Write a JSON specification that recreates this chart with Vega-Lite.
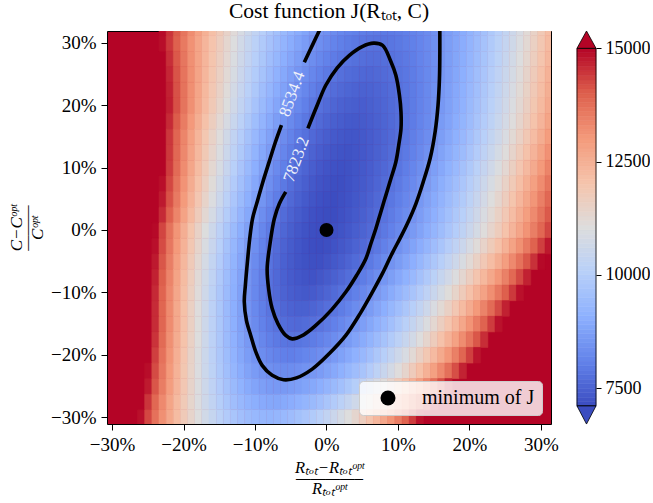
{
"$schema":"https://vega.github.io/schema/vega-lite/v6.json",
"width":444,"height":393,
"padding":{"left":7,"top":0,"right":0,"bottom":0},
"config":{"font":"Liberation Serif","view":{"stroke":"black","strokeWidth":1,"fill":"#b40426"},
"axis":{"grid":false,"domain":false,"tickColor":"black","tickWidth":1,"labelColor":"black","labelFontSize":19,"labelFont":"Liberation Serif","titleColor":"black","titleFont":"Liberation Serif","titleFontWeight":"normal","labelFlush":false,"labelOverlap":false,"labelBound":false}},
"title":{"text":"Cost function J(Rₜₒₜ, C)","fontSize":21.5,"font":"Liberation Serif","fontWeight":"normal","color":"black","offset":7},
"datasets":{
"grid":[
{"x":-23,"y":32.5,"j":14927},{"x":-22,"y":32.5,"j":14486},{"x":-21,"y":32.5,"j":14059},{"x":-20,"y":32.5,"j":13647},{"x":-19,"y":32.5,"j":13249},{"x":-18,"y":32.5,"j":12866},{"x":-17,"y":32.5,"j":12497},{"x":-16,"y":32.5,"j":12142},{"x":-15,"y":32.5,"j":11802},{"x":-14,"y":32.5,"j":11476},{"x":-13,"y":32.5,"j":11165},{"x":-12,"y":32.5,"j":10868},{"x":-11,"y":32.5,"j":10585},{"x":-10,"y":32.5,"j":10317},{"x":-9,"y":32.5,"j":10063},{"x":-8,"y":32.5,"j":9824},{"x":-7,"y":32.5,"j":9599},{"x":-6,"y":32.5,"j":9388},{"x":-5,"y":32.5,"j":9192},{"x":-4,"y":32.5,"j":9010},{"x":-3,"y":32.5,"j":8843},{"x":-2,"y":32.5,"j":8690},{"x":-1,"y":32.5,"j":8551},{"x":0,"y":32.5,"j":8427},{"x":1,"y":32.5,"j":8317},{"x":2,"y":32.5,"j":8222},{"x":3,"y":32.5,"j":8141},{"x":4,"y":32.5,"j":8074},{"x":5,"y":32.5,"j":8022},{"x":6,"y":32.5,"j":7984},{"x":7,"y":32.5,"j":7961},{"x":8,"y":32.5,"j":7952},{"x":9,"y":32.5,"j":7975},{"x":10,"y":32.5,"j":8015},{"x":11,"y":32.5,"j":8069},{"x":12,"y":32.5,"j":8138},{"x":13,"y":32.5,"j":8221},{"x":14,"y":32.5,"j":8318},{"x":15,"y":32.5,"j":8430},{"x":16,"y":32.5,"j":8556},{"x":17,"y":32.5,"j":8697},{"x":18,"y":32.5,"j":8852},{"x":19,"y":32.5,"j":9021},{"x":20,"y":32.5,"j":9205},{"x":21,"y":32.5,"j":9403},{"x":22,"y":32.5,"j":9616},{"x":23,"y":32.5,"j":9843},{"x":24,"y":32.5,"j":10084},{"x":25,"y":32.5,"j":10340},{"x":26,"y":32.5,"j":10610},{"x":27,"y":32.5,"j":10895},{"x":28,"y":32.5,"j":11194},{"x":29,"y":32.5,"j":11507},{"x":30,"y":32.5,"j":11835},{"x":31,"y":32.5,"j":12177},
{"x":-23,"y":30,"j":14898},{"x":-22,"y":30,"j":14442},{"x":-21,"y":30,"j":14001},{"x":-20,"y":30,"j":13576},{"x":-19,"y":30,"j":13165},{"x":-18,"y":30,"j":12770},{"x":-17,"y":30,"j":12390},{"x":-16,"y":30,"j":12025},{"x":-15,"y":30,"j":11675},{"x":-14,"y":30,"j":11341},{"x":-13,"y":30,"j":11022},{"x":-12,"y":30,"j":10718},{"x":-11,"y":30,"j":10429},{"x":-10,"y":30,"j":10156},{"x":-9,"y":30,"j":9897},{"x":-8,"y":30,"j":9654},{"x":-7,"y":30,"j":9426},{"x":-6,"y":30,"j":9213},{"x":-5,"y":30,"j":9015},{"x":-4,"y":30,"j":8833},{"x":-3,"y":30,"j":8666},{"x":-2,"y":30,"j":8514},{"x":-1,"y":30,"j":8377},{"x":0,"y":30,"j":8256},{"x":1,"y":30,"j":8149},{"x":2,"y":30,"j":8058},{"x":3,"y":30,"j":7982},{"x":4,"y":30,"j":7921},{"x":5,"y":30,"j":7875},{"x":6,"y":30,"j":7845},{"x":7,"y":30,"j":7830},{"x":8,"y":30,"j":7842},{"x":9,"y":30,"j":7880},{"x":10,"y":30,"j":7932},{"x":11,"y":30,"j":7998},{"x":12,"y":30,"j":8078},{"x":13,"y":30,"j":8172},{"x":14,"y":30,"j":8280},{"x":15,"y":30,"j":8402},{"x":16,"y":30,"j":8538},{"x":17,"y":30,"j":8688},{"x":18,"y":30,"j":8852},{"x":19,"y":30,"j":9030},{"x":20,"y":30,"j":9222},{"x":21,"y":30,"j":9428},{"x":22,"y":30,"j":9648},{"x":23,"y":30,"j":9882},{"x":24,"y":30,"j":10130},{"x":25,"y":30,"j":10392},{"x":26,"y":30,"j":10668},{"x":27,"y":30,"j":10958},{"x":28,"y":30,"j":11262},{"x":29,"y":30,"j":11580},{"x":30,"y":30,"j":11912},{"x":31,"y":30,"j":12258},
{"x":-22,"y":27.5,"j":14550},{"x":-21,"y":27.5,"j":14085},{"x":-20,"y":27.5,"j":13636},{"x":-19,"y":27.5,"j":13203},{"x":-18,"y":27.5,"j":12787},{"x":-17,"y":27.5,"j":12387},{"x":-16,"y":27.5,"j":12004},{"x":-15,"y":27.5,"j":11637},{"x":-14,"y":27.5,"j":11286},{"x":-13,"y":27.5,"j":10952},{"x":-12,"y":27.5,"j":10634},{"x":-11,"y":27.5,"j":10333},{"x":-10,"y":27.5,"j":10048},{"x":-9,"y":27.5,"j":9779},{"x":-8,"y":27.5,"j":9527},{"x":-7,"y":27.5,"j":9291},{"x":-6,"y":27.5,"j":9072},{"x":-5,"y":27.5,"j":8869},{"x":-4,"y":27.5,"j":8683},{"x":-3,"y":27.5,"j":8513},{"x":-2,"y":27.5,"j":8359},{"x":-1,"y":27.5,"j":8222},{"x":0,"y":27.5,"j":8101},{"x":1,"y":27.5,"j":7996},{"x":2,"y":27.5,"j":7908},{"x":3,"y":27.5,"j":7836},{"x":4,"y":27.5,"j":7781},{"x":5,"y":27.5,"j":7742},{"x":6,"y":27.5,"j":7719},{"x":7,"y":27.5,"j":7717},{"x":8,"y":27.5,"j":7752},{"x":9,"y":27.5,"j":7801},{"x":10,"y":27.5,"j":7864},{"x":11,"y":27.5,"j":7941},{"x":12,"y":27.5,"j":8031},{"x":13,"y":27.5,"j":8135},{"x":14,"y":27.5,"j":8253},{"x":15,"y":27.5,"j":8385},{"x":16,"y":27.5,"j":8530},{"x":17,"y":27.5,"j":8689},{"x":18,"y":27.5,"j":8861},{"x":19,"y":27.5,"j":9047},{"x":20,"y":27.5,"j":9247},{"x":21,"y":27.5,"j":9461},{"x":22,"y":27.5,"j":9688},{"x":23,"y":27.5,"j":9929},{"x":24,"y":27.5,"j":10184},{"x":25,"y":27.5,"j":10453},{"x":26,"y":27.5,"j":10735},{"x":27,"y":27.5,"j":11031},{"x":28,"y":27.5,"j":11340},{"x":29,"y":27.5,"j":11664},{"x":30,"y":27.5,"j":12001},{"x":31,"y":27.5,"j":12352},
{"x":-22,"y":25,"j":14632},{"x":-21,"y":25,"j":14144},{"x":-20,"y":25,"j":13673},{"x":-19,"y":25,"j":13220},{"x":-18,"y":25,"j":12784},{"x":-17,"y":25,"j":12366},{"x":-16,"y":25,"j":11966},{"x":-15,"y":25,"j":11583},{"x":-14,"y":25,"j":11218},{"x":-13,"y":25,"j":10870},{"x":-12,"y":25,"j":10540},{"x":-11,"y":25,"j":10228},{"x":-10,"y":25,"j":9933},{"x":-9,"y":25,"j":9656},{"x":-8,"y":25,"j":9396},{"x":-7,"y":25,"j":9154},{"x":-6,"y":25,"j":8930},{"x":-5,"y":25,"j":8723},{"x":-4,"y":25,"j":8534},{"x":-3,"y":25,"j":8362},{"x":-2,"y":25,"j":8208},{"x":-1,"y":25,"j":8072},{"x":0,"y":25,"j":7953},{"x":1,"y":25,"j":7852},{"x":2,"y":25,"j":7768},{"x":3,"y":25,"j":7702},{"x":4,"y":25,"j":7654},{"x":5,"y":25,"j":7623},{"x":6,"y":25,"j":7610},{"x":7,"y":25,"j":7635},{"x":8,"y":25,"j":7682},{"x":9,"y":25,"j":7742},{"x":10,"y":25,"j":7816},{"x":11,"y":25,"j":7903},{"x":12,"y":25,"j":8003},{"x":13,"y":25,"j":8117},{"x":14,"y":25,"j":8244},{"x":15,"y":25,"j":8384},{"x":16,"y":25,"j":8538},{"x":17,"y":25,"j":8706},{"x":18,"y":25,"j":8887},{"x":19,"y":25,"j":9081},{"x":20,"y":25,"j":9288},{"x":21,"y":25,"j":9509},{"x":22,"y":25,"j":9744},{"x":23,"y":25,"j":9991},{"x":24,"y":25,"j":10252},{"x":25,"y":25,"j":10527},{"x":26,"y":25,"j":10815},{"x":27,"y":25,"j":11116},{"x":28,"y":25,"j":11431},{"x":29,"y":25,"j":11759},{"x":30,"y":25,"j":12101},{"x":31,"y":25,"j":12456},
{"x":-22,"y":22.5,"j":14688},{"x":-21,"y":22.5,"j":14178},{"x":-20,"y":22.5,"j":13686},{"x":-19,"y":22.5,"j":13214},{"x":-18,"y":22.5,"j":12761},{"x":-17,"y":22.5,"j":12326},{"x":-16,"y":22.5,"j":11910},{"x":-15,"y":22.5,"j":11513},{"x":-14,"y":22.5,"j":11134},{"x":-13,"y":22.5,"j":10775},{"x":-12,"y":22.5,"j":10434},{"x":-11,"y":22.5,"j":10112},{"x":-10,"y":22.5,"j":9809},{"x":-9,"y":22.5,"j":9525},{"x":-8,"y":22.5,"j":9259},{"x":-7,"y":22.5,"j":9012},{"x":-6,"y":22.5,"j":8784},{"x":-5,"y":22.5,"j":8575},{"x":-4,"y":22.5,"j":8385},{"x":-3,"y":22.5,"j":8214},{"x":-2,"y":22.5,"j":8061},{"x":-1,"y":22.5,"j":7927},{"x":0,"y":22.5,"j":7811},{"x":1,"y":22.5,"j":7715},{"x":2,"y":22.5,"j":7638},{"x":3,"y":22.5,"j":7579},{"x":4,"y":22.5,"j":7539},{"x":5,"y":22.5,"j":7518},{"x":6,"y":22.5,"j":7527},{"x":7,"y":22.5,"j":7570},{"x":8,"y":22.5,"j":7627},{"x":9,"y":22.5,"j":7696},{"x":10,"y":22.5,"j":7779},{"x":11,"y":22.5,"j":7875},{"x":12,"y":22.5,"j":7984},{"x":13,"y":22.5,"j":8106},{"x":14,"y":22.5,"j":8241},{"x":15,"y":22.5,"j":8389},{"x":16,"y":22.5,"j":8551},{"x":17,"y":22.5,"j":8725},{"x":18,"y":22.5,"j":8913},{"x":19,"y":22.5,"j":9114},{"x":20,"y":22.5,"j":9328},{"x":21,"y":22.5,"j":9554},{"x":22,"y":22.5,"j":9794},{"x":23,"y":22.5,"j":10047},{"x":24,"y":22.5,"j":10314},{"x":25,"y":22.5,"j":10593},{"x":26,"y":22.5,"j":10885},{"x":27,"y":22.5,"j":11190},{"x":28,"y":22.5,"j":11509},{"x":29,"y":22.5,"j":11841},{"x":30,"y":22.5,"j":12186},{"x":31,"y":22.5,"j":12543},
{"x":-22,"y":20,"j":14720},{"x":-21,"y":20,"j":14190},{"x":-20,"y":20,"j":13680},{"x":-19,"y":20,"j":13190},{"x":-18,"y":20,"j":12720},{"x":-17,"y":20,"j":12270},{"x":-16,"y":20,"j":11840},{"x":-15,"y":20,"j":11430},{"x":-14,"y":20,"j":11040},{"x":-13,"y":20,"j":10670},{"x":-12,"y":20,"j":10320},{"x":-11,"y":20,"j":9990},{"x":-10,"y":20,"j":9680},{"x":-9,"y":20,"j":9390},{"x":-8,"y":20,"j":9120},{"x":-7,"y":20,"j":8870},{"x":-6,"y":20,"j":8640},{"x":-5,"y":20,"j":8430},{"x":-4,"y":20,"j":8240},{"x":-3,"y":20,"j":8070},{"x":-2,"y":20,"j":7920},{"x":-1,"y":20,"j":7790},{"x":0,"y":20,"j":7680},{"x":1,"y":20,"j":7590},{"x":2,"y":20,"j":7520},{"x":3,"y":20,"j":7470},{"x":4,"y":20,"j":7440},{"x":5,"y":20,"j":7430},{"x":6,"y":20,"j":7470},{"x":7,"y":20,"j":7524},{"x":8,"y":20,"j":7590},{"x":9,"y":20,"j":7669},{"x":10,"y":20,"j":7760},{"x":11,"y":20,"j":7865},{"x":12,"y":20,"j":7982},{"x":13,"y":20,"j":8112},{"x":14,"y":20,"j":8254},{"x":15,"y":20,"j":8410},{"x":16,"y":20,"j":8578},{"x":17,"y":20,"j":8760},{"x":18,"y":20,"j":8954},{"x":19,"y":20,"j":9161},{"x":20,"y":20,"j":9380},{"x":21,"y":20,"j":9613},{"x":22,"y":20,"j":9858},{"x":23,"y":20,"j":10116},{"x":24,"y":20,"j":10386},{"x":25,"y":20,"j":10670},{"x":26,"y":20,"j":10966},{"x":27,"y":20,"j":11276},{"x":28,"y":20,"j":11598},{"x":29,"y":20,"j":11933},{"x":30,"y":20,"j":12280},{"x":31,"y":20,"j":12641},
{"x":-22,"y":17.5,"j":14590},{"x":-21,"y":17.5,"j":14052},{"x":-20,"y":17.5,"j":13534},{"x":-19,"y":17.5,"j":13038},{"x":-18,"y":17.5,"j":12562},{"x":-17,"y":17.5,"j":12107},{"x":-16,"y":17.5,"j":11672},{"x":-15,"y":17.5,"j":11259},{"x":-14,"y":17.5,"j":10866},{"x":-13,"y":17.5,"j":10495},{"x":-12,"y":17.5,"j":10144},{"x":-11,"y":17.5,"j":9814},{"x":-10,"y":17.5,"j":9504},{"x":-9,"y":17.5,"j":9216},{"x":-8,"y":17.5,"j":8948},{"x":-7,"y":17.5,"j":8701},{"x":-6,"y":17.5,"j":8474},{"x":-5,"y":17.5,"j":8269},{"x":-4,"y":17.5,"j":8084},{"x":-3,"y":17.5,"j":7921},{"x":-2,"y":17.5,"j":7778},{"x":-1,"y":17.5,"j":7656},{"x":0,"y":17.5,"j":7554},{"x":1,"y":17.5,"j":7474},{"x":2,"y":17.5,"j":7414},{"x":3,"y":17.5,"j":7375},{"x":4,"y":17.5,"j":7356},{"x":5,"y":17.5,"j":7380},{"x":6,"y":17.5,"j":7430},{"x":7,"y":17.5,"j":7493},{"x":8,"y":17.5,"j":7568},{"x":9,"y":17.5,"j":7656},{"x":10,"y":17.5,"j":7757},{"x":11,"y":17.5,"j":7870},{"x":12,"y":17.5,"j":7996},{"x":13,"y":17.5,"j":8134},{"x":14,"y":17.5,"j":8285},{"x":15,"y":17.5,"j":8449},{"x":16,"y":17.5,"j":8625},{"x":17,"y":17.5,"j":8814},{"x":18,"y":17.5,"j":9015},{"x":19,"y":17.5,"j":9229},{"x":20,"y":17.5,"j":9456},{"x":21,"y":17.5,"j":9695},{"x":22,"y":17.5,"j":9947},{"x":23,"y":17.5,"j":10211},{"x":24,"y":17.5,"j":10488},{"x":25,"y":17.5,"j":10778},{"x":26,"y":17.5,"j":11080},{"x":27,"y":17.5,"j":11395},{"x":28,"y":17.5,"j":11722},{"x":29,"y":17.5,"j":12062},{"x":30,"y":17.5,"j":12414},{"x":31,"y":17.5,"j":12779},
{"x":-22,"y":15,"j":14452},{"x":-21,"y":15,"j":13907},{"x":-20,"y":15,"j":13383},{"x":-19,"y":15,"j":12881},{"x":-18,"y":15,"j":12400},{"x":-17,"y":15,"j":11941},{"x":-16,"y":15,"j":11504},{"x":-15,"y":15,"j":11088},{"x":-14,"y":15,"j":10694},{"x":-13,"y":15,"j":10321},{"x":-12,"y":15,"j":9970},{"x":-11,"y":15,"j":9641},{"x":-10,"y":15,"j":9333},{"x":-9,"y":15,"j":9047},{"x":-8,"y":15,"j":8782},{"x":-7,"y":15,"j":8539},{"x":-6,"y":15,"j":8318},{"x":-5,"y":15,"j":8118},{"x":-4,"y":15,"j":7940},{"x":-3,"y":15,"j":7783},{"x":-2,"y":15,"j":7648},{"x":-1,"y":15,"j":7535},{"x":0,"y":15,"j":7443},{"x":1,"y":15,"j":7373},{"x":2,"y":15,"j":7324},{"x":3,"y":15,"j":7297},{"x":4,"y":15,"j":7301},{"x":5,"y":15,"j":7349},{"x":6,"y":15,"j":7410},{"x":7,"y":15,"j":7483},{"x":8,"y":15,"j":7569},{"x":9,"y":15,"j":7667},{"x":10,"y":15,"j":7777},{"x":11,"y":15,"j":7900},{"x":12,"y":15,"j":8035},{"x":13,"y":15,"j":8182},{"x":14,"y":15,"j":8342},{"x":15,"y":15,"j":8514},{"x":16,"y":15,"j":8699},{"x":17,"y":15,"j":8896},{"x":18,"y":15,"j":9106},{"x":19,"y":15,"j":9328},{"x":20,"y":15,"j":9562},{"x":21,"y":15,"j":9809},{"x":22,"y":15,"j":10068},{"x":23,"y":15,"j":10339},{"x":24,"y":15,"j":10623},{"x":25,"y":15,"j":10919},{"x":26,"y":15,"j":11228},{"x":27,"y":15,"j":11549},{"x":28,"y":15,"j":11883},{"x":29,"y":15,"j":12229},{"x":30,"y":15,"j":12587},{"x":31,"y":15,"j":12958},
{"x":-22,"y":12.5,"j":14432},{"x":-21,"y":12.5,"j":13871},{"x":-20,"y":12.5,"j":13332},{"x":-19,"y":12.5,"j":12816},{"x":-18,"y":12.5,"j":12323},{"x":-17,"y":12.5,"j":11853},{"x":-16,"y":12.5,"j":11406},{"x":-15,"y":12.5,"j":10981},{"x":-14,"y":12.5,"j":10579},{"x":-13,"y":12.5,"j":10200},{"x":-12,"y":12.5,"j":9844},{"x":-11,"y":12.5,"j":9511},{"x":-10,"y":12.5,"j":9200},{"x":-9,"y":12.5,"j":8912},{"x":-8,"y":12.5,"j":8647},{"x":-7,"y":12.5,"j":8405},{"x":-6,"y":12.5,"j":8185},{"x":-5,"y":12.5,"j":7989},{"x":-4,"y":12.5,"j":7815},{"x":-3,"y":12.5,"j":7664},{"x":-2,"y":12.5,"j":7535},{"x":-1,"y":12.5,"j":7430},{"x":0,"y":12.5,"j":7347},{"x":1,"y":12.5,"j":7287},{"x":2,"y":12.5,"j":7250},{"x":3,"y":12.5,"j":7236},{"x":4,"y":12.5,"j":7278},{"x":5,"y":12.5,"j":7338},{"x":6,"y":12.5,"j":7410},{"x":7,"y":12.5,"j":7494},{"x":8,"y":12.5,"j":7591},{"x":9,"y":12.5,"j":7699},{"x":10,"y":12.5,"j":7820},{"x":11,"y":12.5,"j":7953},{"x":12,"y":12.5,"j":8098},{"x":13,"y":12.5,"j":8255},{"x":14,"y":12.5,"j":8425},{"x":15,"y":12.5,"j":8607},{"x":16,"y":12.5,"j":8801},{"x":17,"y":12.5,"j":9007},{"x":18,"y":12.5,"j":9225},{"x":19,"y":12.5,"j":9456},{"x":20,"y":12.5,"j":9699},{"x":21,"y":12.5,"j":9954},{"x":22,"y":12.5,"j":10221},{"x":23,"y":12.5,"j":10500},{"x":24,"y":12.5,"j":10792},{"x":25,"y":12.5,"j":11096},{"x":26,"y":12.5,"j":11412},{"x":27,"y":12.5,"j":11740},{"x":28,"y":12.5,"j":12080},{"x":29,"y":12.5,"j":12432},{"x":30,"y":12.5,"j":12797},{"x":31,"y":12.5,"j":13174},
{"x":-22,"y":10,"j":14395},{"x":-21,"y":10,"j":13819},{"x":-20,"y":10,"j":13267},{"x":-19,"y":10,"j":12739},{"x":-18,"y":10,"j":12235},{"x":-17,"y":10,"j":11755},{"x":-16,"y":10,"j":11299},{"x":-15,"y":10,"j":10867},{"x":-14,"y":10,"j":10459},{"x":-13,"y":10,"j":10075},{"x":-12,"y":10,"j":9715},{"x":-11,"y":10,"j":9379},{"x":-10,"y":10,"j":9067},{"x":-9,"y":10,"j":8779},{"x":-8,"y":10,"j":8515},{"x":-7,"y":10,"j":8275},{"x":-6,"y":10,"j":8059},{"x":-5,"y":10,"j":7867},{"x":-4,"y":10,"j":7699},{"x":-3,"y":10,"j":7555},{"x":-2,"y":10,"j":7435},{"x":-1,"y":10,"j":7339},{"x":0,"y":10,"j":7267},{"x":1,"y":10,"j":7219},{"x":2,"y":10,"j":7195},{"x":3,"y":10,"j":7217},{"x":4,"y":10,"j":7276},{"x":5,"y":10,"j":7347},{"x":6,"y":10,"j":7430},{"x":7,"y":10,"j":7525},{"x":8,"y":10,"j":7632},{"x":9,"y":10,"j":7751},{"x":10,"y":10,"j":7882},{"x":11,"y":10,"j":8025},{"x":12,"y":10,"j":8180},{"x":13,"y":10,"j":8347},{"x":14,"y":10,"j":8526},{"x":15,"y":10,"j":8717},{"x":16,"y":10,"j":8920},{"x":17,"y":10,"j":9135},{"x":18,"y":10,"j":9362},{"x":19,"y":10,"j":9601},{"x":20,"y":10,"j":9852},{"x":21,"y":10,"j":10115},{"x":22,"y":10,"j":10390},{"x":23,"y":10,"j":10677},{"x":24,"y":10,"j":10976},{"x":25,"y":10,"j":11287},{"x":26,"y":10,"j":11610},{"x":27,"y":10,"j":11945},{"x":28,"y":10,"j":12292},{"x":29,"y":10,"j":12651},{"x":30,"y":10,"j":13022},{"x":31,"y":10,"j":13405},
{"x":-23,"y":7.5,"j":14892},{"x":-22,"y":7.5,"j":14282},{"x":-21,"y":7.5,"j":13698},{"x":-20,"y":7.5,"j":13139},{"x":-19,"y":7.5,"j":12605},{"x":-18,"y":7.5,"j":12095},{"x":-17,"y":7.5,"j":11611},{"x":-16,"y":7.5,"j":11151},{"x":-15,"y":7.5,"j":10717},{"x":-14,"y":7.5,"j":10307},{"x":-13,"y":7.5,"j":9923},{"x":-12,"y":7.5,"j":9564},{"x":-11,"y":7.5,"j":9230},{"x":-10,"y":7.5,"j":8920},{"x":-9,"y":7.5,"j":8636},{"x":-8,"y":7.5,"j":8376},{"x":-7,"y":7.5,"j":8142},{"x":-6,"y":7.5,"j":7932},{"x":-5,"y":7.5,"j":7748},{"x":-4,"y":7.5,"j":7588},{"x":-3,"y":7.5,"j":7454},{"x":-2,"y":7.5,"j":7345},{"x":-1,"y":7.5,"j":7261},{"x":0,"y":7.5,"j":7201},{"x":1,"y":7.5,"j":7167},{"x":2,"y":7.5,"j":7163},{"x":3,"y":7.5,"j":7222},{"x":4,"y":7.5,"j":7292},{"x":5,"y":7.5,"j":7374},{"x":6,"y":7.5,"j":7468},{"x":7,"y":7.5,"j":7574},{"x":8,"y":7.5,"j":7691},{"x":9,"y":7.5,"j":7820},{"x":10,"y":7.5,"j":7961},{"x":11,"y":7.5,"j":8114},{"x":12,"y":7.5,"j":8278},{"x":13,"y":7.5,"j":8455},{"x":14,"y":7.5,"j":8643},{"x":15,"y":7.5,"j":8843},{"x":16,"y":7.5,"j":9055},{"x":17,"y":7.5,"j":9279},{"x":18,"y":7.5,"j":9514},{"x":19,"y":7.5,"j":9761},{"x":20,"y":7.5,"j":10020},{"x":21,"y":7.5,"j":10291},{"x":22,"y":7.5,"j":10573},{"x":23,"y":7.5,"j":10868},{"x":24,"y":7.5,"j":11174},{"x":25,"y":7.5,"j":11492},{"x":26,"y":7.5,"j":11821},{"x":27,"y":7.5,"j":12163},{"x":28,"y":7.5,"j":12516},{"x":29,"y":7.5,"j":12881},{"x":30,"y":7.5,"j":13258},{"x":31,"y":7.5,"j":13647},
{"x":-23,"y":5,"j":14777},{"x":-22,"y":5,"j":14159},{"x":-21,"y":5,"j":13568},{"x":-20,"y":5,"j":13002},{"x":-19,"y":5,"j":12463},{"x":-18,"y":5,"j":11949},{"x":-17,"y":5,"j":11462},{"x":-16,"y":5,"j":11000},{"x":-15,"y":5,"j":10565},{"x":-14,"y":5,"j":10155},{"x":-13,"y":5,"j":9772},{"x":-12,"y":5,"j":9414},{"x":-11,"y":5,"j":9083},{"x":-10,"y":5,"j":8777},{"x":-9,"y":5,"j":8498},{"x":-8,"y":5,"j":8244},{"x":-7,"y":5,"j":8017},{"x":-6,"y":5,"j":7815},{"x":-5,"y":5,"j":7640},{"x":-4,"y":5,"j":7490},{"x":-3,"y":5,"j":7367},{"x":-2,"y":5,"j":7269},{"x":-1,"y":5,"j":7198},{"x":0,"y":5,"j":7152},{"x":1,"y":5,"j":7133},{"x":2,"y":5,"j":7176},{"x":3,"y":5,"j":7244},{"x":4,"y":5,"j":7324},{"x":5,"y":5,"j":7416},{"x":6,"y":5,"j":7519},{"x":7,"y":5,"j":7634},{"x":8,"y":5,"j":7761},{"x":9,"y":5,"j":7899},{"x":10,"y":5,"j":8049},{"x":11,"y":5,"j":8210},{"x":12,"y":5,"j":8383},{"x":13,"y":5,"j":8567},{"x":14,"y":5,"j":8763},{"x":15,"y":5,"j":8971},{"x":16,"y":5,"j":9190},{"x":17,"y":5,"j":9421},{"x":18,"y":5,"j":9664},{"x":19,"y":5,"j":9918},{"x":20,"y":5,"j":10184},{"x":21,"y":5,"j":10461},{"x":22,"y":5,"j":10750},{"x":23,"y":5,"j":11050},{"x":24,"y":5,"j":11362},{"x":25,"y":5,"j":11686},{"x":26,"y":5,"j":12021},{"x":27,"y":5,"j":12368},{"x":28,"y":5,"j":12727},{"x":29,"y":5,"j":13097},{"x":30,"y":5,"j":13479},{"x":31,"y":5,"j":13872},
{"x":-23,"y":2.5,"j":14596},{"x":-22,"y":2.5,"j":13976},{"x":-21,"y":2.5,"j":13383},{"x":-20,"y":2.5,"j":12817},{"x":-19,"y":2.5,"j":12278},{"x":-18,"y":2.5,"j":11765},{"x":-17,"y":2.5,"j":11280},{"x":-16,"y":2.5,"j":10821},{"x":-15,"y":2.5,"j":10389},{"x":-14,"y":2.5,"j":9983},{"x":-13,"y":2.5,"j":9605},{"x":-12,"y":2.5,"j":9253},{"x":-11,"y":2.5,"j":8928},{"x":-10,"y":2.5,"j":8630},{"x":-9,"y":2.5,"j":8359},{"x":-8,"y":2.5,"j":8114},{"x":-7,"y":2.5,"j":7896},{"x":-6,"y":2.5,"j":7705},{"x":-5,"y":2.5,"j":7541},{"x":-4,"y":2.5,"j":7404},{"x":-3,"y":2.5,"j":7293},{"x":-2,"y":2.5,"j":7209},{"x":-1,"y":2.5,"j":7152},{"x":0,"y":2.5,"j":7122},{"x":1,"y":2.5,"j":7139},{"x":2,"y":2.5,"j":7205},{"x":3,"y":2.5,"j":7282},{"x":4,"y":2.5,"j":7371},{"x":5,"y":2.5,"j":7471},{"x":6,"y":2.5,"j":7583},{"x":7,"y":2.5,"j":7705},{"x":8,"y":2.5,"j":7840},{"x":9,"y":2.5,"j":7985},{"x":10,"y":2.5,"j":8143},{"x":11,"y":2.5,"j":8311},{"x":12,"y":2.5,"j":8492},{"x":13,"y":2.5,"j":8683},{"x":14,"y":2.5,"j":8886},{"x":15,"y":2.5,"j":9099},{"x":16,"y":2.5,"j":9325},{"x":17,"y":2.5,"j":9562},{"x":18,"y":2.5,"j":9811},{"x":19,"y":2.5,"j":10070},{"x":20,"y":2.5,"j":10342},{"x":21,"y":2.5,"j":10624},{"x":22,"y":2.5,"j":10918},{"x":23,"y":2.5,"j":11223},{"x":24,"y":2.5,"j":11540},{"x":25,"y":2.5,"j":11868},{"x":26,"y":2.5,"j":12208},{"x":27,"y":2.5,"j":12559},{"x":28,"y":2.5,"j":12922},{"x":29,"y":2.5,"j":13295},{"x":30,"y":2.5,"j":13681},{"x":31,"y":2.5,"j":14077},
{"x":-24,"y":0,"j":14946},{"x":-23,"y":0,"j":14306},{"x":-22,"y":0,"j":13694},{"x":-21,"y":0,"j":13109},{"x":-20,"y":0,"j":12552},{"x":-19,"y":0,"j":12021},{"x":-18,"y":0,"j":11518},{"x":-17,"y":0,"j":11042},{"x":-16,"y":0,"j":10594},{"x":-15,"y":0,"j":10172},{"x":-14,"y":0,"j":9778},{"x":-13,"y":0,"j":9410},{"x":-12,"y":0,"j":9070},{"x":-11,"y":0,"j":8757},{"x":-10,"y":0,"j":8472},{"x":-9,"y":0,"j":8213},{"x":-8,"y":0,"j":7982},{"x":-7,"y":0,"j":7778},{"x":-6,"y":0,"j":7602},{"x":-5,"y":0,"j":7452},{"x":-4,"y":0,"j":7330},{"x":-3,"y":0,"j":7234},{"x":-2,"y":0,"j":7166},{"x":-1,"y":0,"j":7126},{"x":0,"y":0,"j":7112},{"x":1,"y":0,"j":7176},{"x":2,"y":0,"j":7250},{"x":3,"y":0,"j":7336},{"x":4,"y":0,"j":7434},{"x":5,"y":0,"j":7542},{"x":6,"y":0,"j":7662},{"x":7,"y":0,"j":7792},{"x":8,"y":0,"j":7934},{"x":9,"y":0,"j":8087},{"x":10,"y":0,"j":8252},{"x":11,"y":0,"j":8427},{"x":12,"y":0,"j":8614},{"x":13,"y":0,"j":8812},{"x":14,"y":0,"j":9022},{"x":15,"y":0,"j":9242},{"x":16,"y":0,"j":9474},{"x":17,"y":0,"j":9716},{"x":18,"y":0,"j":9970},{"x":19,"y":0,"j":10235},{"x":20,"y":0,"j":10512},{"x":21,"y":0,"j":10799},{"x":22,"y":0,"j":11098},{"x":23,"y":0,"j":11408},{"x":24,"y":0,"j":11730},{"x":25,"y":0,"j":12062},{"x":26,"y":0,"j":12406},{"x":27,"y":0,"j":12760},{"x":28,"y":0,"j":13126},{"x":29,"y":0,"j":13503},{"x":30,"y":0,"j":13892},{"x":31,"y":0,"j":14291},
{"x":-24,"y":-2.5,"j":14886},{"x":-23,"y":-2.5,"j":14236},{"x":-22,"y":-2.5,"j":13615},{"x":-21,"y":-2.5,"j":13022},{"x":-20,"y":-2.5,"j":12458},{"x":-19,"y":-2.5,"j":11922},{"x":-18,"y":-2.5,"j":11414},{"x":-17,"y":-2.5,"j":10935},{"x":-16,"y":-2.5,"j":10484},{"x":-15,"y":-2.5,"j":10061},{"x":-14,"y":-2.5,"j":9667},{"x":-13,"y":-2.5,"j":9301},{"x":-12,"y":-2.5,"j":8964},{"x":-11,"y":-2.5,"j":8655},{"x":-10,"y":-2.5,"j":8375},{"x":-9,"y":-2.5,"j":8123},{"x":-8,"y":-2.5,"j":7899},{"x":-7,"y":-2.5,"j":7704},{"x":-6,"y":-2.5,"j":7537},{"x":-5,"y":-2.5,"j":7399},{"x":-4,"y":-2.5,"j":7289},{"x":-3,"y":-2.5,"j":7207},{"x":-2,"y":-2.5,"j":7154},{"x":-1,"y":-2.5,"j":7129},{"x":0,"y":-2.5,"j":7168},{"x":1,"y":-2.5,"j":7243},{"x":2,"y":-2.5,"j":7329},{"x":3,"y":-2.5,"j":7427},{"x":4,"y":-2.5,"j":7536},{"x":5,"y":-2.5,"j":7656},{"x":6,"y":-2.5,"j":7788},{"x":7,"y":-2.5,"j":7931},{"x":8,"y":-2.5,"j":8086},{"x":9,"y":-2.5,"j":8252},{"x":10,"y":-2.5,"j":8429},{"x":11,"y":-2.5,"j":8618},{"x":12,"y":-2.5,"j":8818},{"x":13,"y":-2.5,"j":9030},{"x":14,"y":-2.5,"j":9253},{"x":15,"y":-2.5,"j":9487},{"x":16,"y":-2.5,"j":9733},{"x":17,"y":-2.5,"j":9990},{"x":18,"y":-2.5,"j":10259},{"x":19,"y":-2.5,"j":10539},{"x":20,"y":-2.5,"j":10830},{"x":21,"y":-2.5,"j":11133},{"x":22,"y":-2.5,"j":11448},{"x":23,"y":-2.5,"j":11773},{"x":24,"y":-2.5,"j":12110},{"x":25,"y":-2.5,"j":12458},{"x":26,"y":-2.5,"j":12818},{"x":27,"y":-2.5,"j":13189},{"x":28,"y":-2.5,"j":13572},{"x":29,"y":-2.5,"j":13966},{"x":30,"y":-2.5,"j":14372},{"x":31,"y":-2.5,"j":14789},
{"x":-24,"y":-5,"j":14779},{"x":-23,"y":-5,"j":14125},{"x":-22,"y":-5,"j":13500},{"x":-21,"y":-5,"j":12905},{"x":-20,"y":-5,"j":12339},{"x":-19,"y":-5,"j":11802},{"x":-18,"y":-5,"j":11295},{"x":-17,"y":-5,"j":10817},{"x":-16,"y":-5,"j":10369},{"x":-15,"y":-5,"j":9950},{"x":-14,"y":-5,"j":9561},{"x":-13,"y":-5,"j":9201},{"x":-12,"y":-5,"j":8870},{"x":-11,"y":-5,"j":8568},{"x":-10,"y":-5,"j":8296},{"x":-9,"y":-5,"j":8054},{"x":-8,"y":-5,"j":7841},{"x":-7,"y":-5,"j":7657},{"x":-6,"y":-5,"j":7503},{"x":-5,"y":-5,"j":7378},{"x":-4,"y":-5,"j":7282},{"x":-3,"y":-5,"j":7216},{"x":-2,"y":-5,"j":7179},{"x":-1,"y":-5,"j":7188},{"x":0,"y":-5,"j":7263},{"x":1,"y":-5,"j":7349},{"x":2,"y":-5,"j":7447},{"x":3,"y":-5,"j":7557},{"x":4,"y":-5,"j":7679},{"x":5,"y":-5,"j":7812},{"x":6,"y":-5,"j":7957},{"x":7,"y":-5,"j":8114},{"x":8,"y":-5,"j":8282},{"x":9,"y":-5,"j":8462},{"x":10,"y":-5,"j":8654},{"x":11,"y":-5,"j":8858},{"x":12,"y":-5,"j":9073},{"x":13,"y":-5,"j":9300},{"x":14,"y":-5,"j":9538},{"x":15,"y":-5,"j":9788},{"x":16,"y":-5,"j":10050},{"x":17,"y":-5,"j":10324},{"x":18,"y":-5,"j":10609},{"x":19,"y":-5,"j":10906},{"x":20,"y":-5,"j":11215},{"x":21,"y":-5,"j":11536},{"x":22,"y":-5,"j":11868},{"x":23,"y":-5,"j":12212},{"x":24,"y":-5,"j":12567},{"x":25,"y":-5,"j":12935},{"x":26,"y":-5,"j":13314},{"x":27,"y":-5,"j":13705},{"x":28,"y":-5,"j":14107},{"x":29,"y":-5,"j":14521},{"x":30,"y":-5,"j":14946},
{"x":-24,"y":-7.5,"j":14685},{"x":-23,"y":-7.5,"j":14027},{"x":-22,"y":-7.5,"j":13400},{"x":-21,"y":-7.5,"j":12804},{"x":-20,"y":-7.5,"j":12238},{"x":-19,"y":-7.5,"j":11702},{"x":-18,"y":-7.5,"j":11196},{"x":-17,"y":-7.5,"j":10721},{"x":-16,"y":-7.5,"j":10277},{"x":-15,"y":-7.5,"j":9863},{"x":-14,"y":-7.5,"j":9479},{"x":-13,"y":-7.5,"j":9125},{"x":-12,"y":-7.5,"j":8802},{"x":-11,"y":-7.5,"j":8510},{"x":-10,"y":-7.5,"j":8248},{"x":-9,"y":-7.5,"j":8016},{"x":-8,"y":-7.5,"j":7814},{"x":-7,"y":-7.5,"j":7643},{"x":-6,"y":-7.5,"j":7503},{"x":-5,"y":-7.5,"j":7393},{"x":-4,"y":-7.5,"j":7313},{"x":-3,"y":-7.5,"j":7263},{"x":-2,"y":-7.5,"j":7244},{"x":-1,"y":-7.5,"j":7310},{"x":0,"y":-7.5,"j":7396},{"x":1,"y":-7.5,"j":7494},{"x":2,"y":-7.5,"j":7605},{"x":3,"y":-7.5,"j":7727},{"x":4,"y":-7.5,"j":7862},{"x":5,"y":-7.5,"j":8008},{"x":6,"y":-7.5,"j":8167},{"x":7,"y":-7.5,"j":8337},{"x":8,"y":-7.5,"j":8520},{"x":9,"y":-7.5,"j":8714},{"x":10,"y":-7.5,"j":8921},{"x":11,"y":-7.5,"j":9139},{"x":12,"y":-7.5,"j":9370},{"x":13,"y":-7.5,"j":9612},{"x":14,"y":-7.5,"j":9867},{"x":15,"y":-7.5,"j":10133},{"x":16,"y":-7.5,"j":10412},{"x":17,"y":-7.5,"j":10702},{"x":18,"y":-7.5,"j":11005},{"x":19,"y":-7.5,"j":11319},{"x":20,"y":-7.5,"j":11646},{"x":21,"y":-7.5,"j":11984},{"x":22,"y":-7.5,"j":12335},{"x":23,"y":-7.5,"j":12697},{"x":24,"y":-7.5,"j":13072},{"x":25,"y":-7.5,"j":13458},{"x":26,"y":-7.5,"j":13857},{"x":27,"y":-7.5,"j":14267},{"x":28,"y":-7.5,"j":14690},
{"x":-24,"y":-10,"j":14604},{"x":-23,"y":-10,"j":13945},{"x":-22,"y":-10,"j":13317},{"x":-21,"y":-10,"j":12720},{"x":-20,"y":-10,"j":12155},{"x":-19,"y":-10,"j":11621},{"x":-18,"y":-10,"j":11119},{"x":-17,"y":-10,"j":10648},{"x":-16,"y":-10,"j":10208},{"x":-15,"y":-10,"j":9800},{"x":-14,"y":-10,"j":9423},{"x":-13,"y":-10,"j":9078},{"x":-12,"y":-10,"j":8764},{"x":-11,"y":-10,"j":8481},{"x":-10,"y":-10,"j":8230},{"x":-9,"y":-10,"j":8010},{"x":-8,"y":-10,"j":7822},{"x":-7,"y":-10,"j":7665},{"x":-6,"y":-10,"j":7539},{"x":-5,"y":-10,"j":7445},{"x":-4,"y":-10,"j":7382},{"x":-3,"y":-10,"j":7351},{"x":-2,"y":-10,"j":7385},{"x":-1,"y":-10,"j":7469},{"x":0,"y":-10,"j":7566},{"x":1,"y":-10,"j":7675},{"x":2,"y":-10,"j":7797},{"x":3,"y":-10,"j":7931},{"x":4,"y":-10,"j":8077},{"x":5,"y":-10,"j":8236},{"x":6,"y":-10,"j":8407},{"x":7,"y":-10,"j":8591},{"x":8,"y":-10,"j":8787},{"x":9,"y":-10,"j":8995},{"x":10,"y":-10,"j":9216},{"x":11,"y":-10,"j":9449},{"x":12,"y":-10,"j":9695},{"x":13,"y":-10,"j":9953},{"x":14,"y":-10,"j":10223},{"x":15,"y":-10,"j":10506},{"x":16,"y":-10,"j":10801},{"x":17,"y":-10,"j":11109},{"x":18,"y":-10,"j":11429},{"x":19,"y":-10,"j":11761},{"x":20,"y":-10,"j":12106},{"x":21,"y":-10,"j":12463},{"x":22,"y":-10,"j":12833},{"x":23,"y":-10,"j":13215},{"x":24,"y":-10,"j":13609},{"x":25,"y":-10,"j":14016},{"x":26,"y":-10,"j":14435},{"x":27,"y":-10,"j":14867},
{"x":-24,"y":-12.5,"j":14582},{"x":-23,"y":-12.5,"j":13918},{"x":-22,"y":-12.5,"j":13286},{"x":-21,"y":-12.5,"j":12687},{"x":-20,"y":-12.5,"j":12121},{"x":-19,"y":-12.5,"j":11587},{"x":-18,"y":-12.5,"j":11086},{"x":-17,"y":-12.5,"j":10617},{"x":-16,"y":-12.5,"j":10181},{"x":-15,"y":-12.5,"j":9778},{"x":-14,"y":-12.5,"j":9407},{"x":-13,"y":-12.5,"j":9069},{"x":-12,"y":-12.5,"j":8763},{"x":-11,"y":-12.5,"j":8490},{"x":-10,"y":-12.5,"j":8249},{"x":-9,"y":-12.5,"j":8041},{"x":-8,"y":-12.5,"j":7866},{"x":-7,"y":-12.5,"j":7724},{"x":-6,"y":-12.5,"j":7614},{"x":-5,"y":-12.5,"j":7536},{"x":-4,"y":-12.5,"j":7491},{"x":-3,"y":-12.5,"j":7488},{"x":-2,"y":-12.5,"j":7564},{"x":-1,"y":-12.5,"j":7654},{"x":0,"y":-12.5,"j":7757},{"x":1,"y":-12.5,"j":7874},{"x":2,"y":-12.5,"j":8004},{"x":3,"y":-12.5,"j":8147},{"x":4,"y":-12.5,"j":8304},{"x":5,"y":-12.5,"j":8474},{"x":6,"y":-12.5,"j":8657},{"x":7,"y":-12.5,"j":8854},{"x":8,"y":-12.5,"j":9065},{"x":9,"y":-12.5,"j":9289},{"x":10,"y":-12.5,"j":9526},{"x":11,"y":-12.5,"j":9776},{"x":12,"y":-12.5,"j":10040},{"x":13,"y":-12.5,"j":10317},{"x":14,"y":-12.5,"j":10608},{"x":15,"y":-12.5,"j":10912},{"x":16,"y":-12.5,"j":11230},{"x":17,"y":-12.5,"j":11561},{"x":18,"y":-12.5,"j":11906},{"x":19,"y":-12.5,"j":12264},{"x":20,"y":-12.5,"j":12635},{"x":21,"y":-12.5,"j":13019},{"x":22,"y":-12.5,"j":13417},{"x":23,"y":-12.5,"j":13828},{"x":24,"y":-12.5,"j":14253},{"x":25,"y":-12.5,"j":14691},
{"x":-24,"y":-15,"j":14571},{"x":-23,"y":-15,"j":13904},{"x":-22,"y":-15,"j":13270},{"x":-21,"y":-15,"j":12670},{"x":-20,"y":-15,"j":12104},{"x":-19,"y":-15,"j":11572},{"x":-18,"y":-15,"j":11073},{"x":-17,"y":-15,"j":10608},{"x":-16,"y":-15,"j":10177},{"x":-15,"y":-15,"j":9780},{"x":-14,"y":-15,"j":9417},{"x":-13,"y":-15,"j":9087},{"x":-12,"y":-15,"j":8791},{"x":-11,"y":-15,"j":8529},{"x":-10,"y":-15,"j":8301},{"x":-9,"y":-15,"j":8107},{"x":-8,"y":-15,"j":7946},{"x":-7,"y":-15,"j":7820},{"x":-6,"y":-15,"j":7727},{"x":-5,"y":-15,"j":7668},{"x":-4,"y":-15,"j":7642},{"x":-3,"y":-15,"j":7690},{"x":-2,"y":-15,"j":7768},{"x":-1,"y":-15,"j":7860},{"x":0,"y":-15,"j":7967},{"x":1,"y":-15,"j":8088},{"x":2,"y":-15,"j":8224},{"x":3,"y":-15,"j":8374},{"x":4,"y":-15,"j":8539},{"x":5,"y":-15,"j":8718},{"x":6,"y":-15,"j":8911},{"x":7,"y":-15,"j":9118},{"x":8,"y":-15,"j":9340},{"x":9,"y":-15,"j":9576},{"x":10,"y":-15,"j":9827},{"x":11,"y":-15,"j":10092},{"x":12,"y":-15,"j":10372},{"x":13,"y":-15,"j":10666},{"x":14,"y":-15,"j":10974},{"x":15,"y":-15,"j":11297},{"x":16,"y":-15,"j":11634},{"x":17,"y":-15,"j":11986},{"x":18,"y":-15,"j":12352},{"x":19,"y":-15,"j":12732},{"x":20,"y":-15,"j":13127},{"x":21,"y":-15,"j":13536},{"x":22,"y":-15,"j":13960},{"x":23,"y":-15,"j":14398},{"x":24,"y":-15,"j":14850},
{"x":-24,"y":-17.5,"j":14495},{"x":-23,"y":-17.5,"j":13833},{"x":-22,"y":-17.5,"j":13206},{"x":-21,"y":-17.5,"j":12614},{"x":-20,"y":-17.5,"j":12056},{"x":-19,"y":-17.5,"j":11533},{"x":-18,"y":-17.5,"j":11044},{"x":-17,"y":-17.5,"j":10590},{"x":-16,"y":-17.5,"j":10170},{"x":-15,"y":-17.5,"j":9785},{"x":-14,"y":-17.5,"j":9435},{"x":-13,"y":-17.5,"j":9119},{"x":-12,"y":-17.5,"j":8838},{"x":-11,"y":-17.5,"j":8591},{"x":-10,"y":-17.5,"j":8379},{"x":-9,"y":-17.5,"j":8202},{"x":-8,"y":-17.5,"j":8059},{"x":-7,"y":-17.5,"j":7951},{"x":-6,"y":-17.5,"j":7878},{"x":-5,"y":-17.5,"j":7839},{"x":-4,"y":-17.5,"j":7853},{"x":-3,"y":-17.5,"j":7918},{"x":-2,"y":-17.5,"j":7999},{"x":-1,"y":-17.5,"j":8095},{"x":0,"y":-17.5,"j":8207},{"x":1,"y":-17.5,"j":8334},{"x":2,"y":-17.5,"j":8476},{"x":3,"y":-17.5,"j":8634},{"x":4,"y":-17.5,"j":8808},{"x":5,"y":-17.5,"j":8996},{"x":6,"y":-17.5,"j":9200},{"x":7,"y":-17.5,"j":9420},{"x":8,"y":-17.5,"j":9655},{"x":9,"y":-17.5,"j":9905},{"x":10,"y":-17.5,"j":10171},{"x":11,"y":-17.5,"j":10452},{"x":12,"y":-17.5,"j":10748},{"x":13,"y":-17.5,"j":11060},{"x":14,"y":-17.5,"j":11387},{"x":15,"y":-17.5,"j":11730},{"x":16,"y":-17.5,"j":12088},{"x":17,"y":-17.5,"j":12461},{"x":18,"y":-17.5,"j":12850},{"x":19,"y":-17.5,"j":13254},{"x":20,"y":-17.5,"j":13674},{"x":21,"y":-17.5,"j":14109},{"x":22,"y":-17.5,"j":14560},
{"x":-24,"y":-20,"j":14370},{"x":-23,"y":-20,"j":13722},{"x":-22,"y":-20,"j":13110},{"x":-21,"y":-20,"j":12532},{"x":-20,"y":-20,"j":11990},{"x":-19,"y":-20,"j":11482},{"x":-18,"y":-20,"j":11010},{"x":-17,"y":-20,"j":10572},{"x":-16,"y":-20,"j":10170},{"x":-15,"y":-20,"j":9802},{"x":-14,"y":-20,"j":9470},{"x":-13,"y":-20,"j":9172},{"x":-12,"y":-20,"j":8910},{"x":-11,"y":-20,"j":8682},{"x":-10,"y":-20,"j":8490},{"x":-9,"y":-20,"j":8332},{"x":-8,"y":-20,"j":8210},{"x":-7,"y":-20,"j":8122},{"x":-6,"y":-20,"j":8070},{"x":-5,"y":-20,"j":8052},{"x":-4,"y":-20,"j":8105},{"x":-3,"y":-20,"j":8175},{"x":-2,"y":-20,"j":8262},{"x":-1,"y":-20,"j":8365},{"x":0,"y":-20,"j":8485},{"x":1,"y":-20,"j":8621},{"x":2,"y":-20,"j":8774},{"x":3,"y":-20,"j":8943},{"x":4,"y":-20,"j":9129},{"x":5,"y":-20,"j":9332},{"x":6,"y":-20,"j":9551},{"x":7,"y":-20,"j":9787},{"x":8,"y":-20,"j":10040},{"x":9,"y":-20,"j":10309},{"x":10,"y":-20,"j":10595},{"x":11,"y":-20,"j":10897},{"x":12,"y":-20,"j":11216},{"x":13,"y":-20,"j":11551},{"x":14,"y":-20,"j":11903},{"x":15,"y":-20,"j":12272},{"x":16,"y":-20,"j":12657},{"x":17,"y":-20,"j":13059},{"x":18,"y":-20,"j":13478},{"x":19,"y":-20,"j":13913},{"x":20,"y":-20,"j":14365},{"x":21,"y":-20,"j":14833},
{"x":-25,"y":-22.5,"j":14908},{"x":-24,"y":-22.5,"j":14244},{"x":-23,"y":-22.5,"j":13615},{"x":-22,"y":-22.5,"j":13021},{"x":-21,"y":-22.5,"j":12462},{"x":-20,"y":-22.5,"j":11939},{"x":-19,"y":-22.5,"j":11450},{"x":-18,"y":-22.5,"j":10997},{"x":-17,"y":-22.5,"j":10579},{"x":-16,"y":-22.5,"j":10196},{"x":-15,"y":-22.5,"j":9848},{"x":-14,"y":-22.5,"j":9536},{"x":-13,"y":-22.5,"j":9259},{"x":-12,"y":-22.5,"j":9017},{"x":-11,"y":-22.5,"j":8810},{"x":-10,"y":-22.5,"j":8639},{"x":-9,"y":-22.5,"j":8502},{"x":-8,"y":-22.5,"j":8401},{"x":-7,"y":-22.5,"j":8335},{"x":-6,"y":-22.5,"j":8304},{"x":-5,"y":-22.5,"j":8329},{"x":-4,"y":-22.5,"j":8386},{"x":-3,"y":-22.5,"j":8461},{"x":-2,"y":-22.5,"j":8554},{"x":-1,"y":-22.5,"j":8666},{"x":0,"y":-22.5,"j":8795},{"x":1,"y":-22.5,"j":8942},{"x":2,"y":-22.5,"j":9107},{"x":3,"y":-22.5,"j":9291},{"x":4,"y":-22.5,"j":9492},{"x":5,"y":-22.5,"j":9711},{"x":6,"y":-22.5,"j":9948},{"x":7,"y":-22.5,"j":10204},{"x":8,"y":-22.5,"j":10477},{"x":9,"y":-22.5,"j":10768},{"x":10,"y":-22.5,"j":11077},{"x":11,"y":-22.5,"j":11405},{"x":12,"y":-22.5,"j":11750},{"x":13,"y":-22.5,"j":12113},{"x":14,"y":-22.5,"j":12494},{"x":15,"y":-22.5,"j":12894},{"x":16,"y":-22.5,"j":13311},{"x":17,"y":-22.5,"j":13746},{"x":18,"y":-22.5,"j":14199},{"x":19,"y":-22.5,"j":14671},
{"x":-25,"y":-25,"j":14768},{"x":-24,"y":-25,"j":14126},{"x":-23,"y":-25,"j":13519},{"x":-22,"y":-25,"j":12947},{"x":-21,"y":-25,"j":12410},{"x":-20,"y":-25,"j":11908},{"x":-19,"y":-25,"j":11442},{"x":-18,"y":-25,"j":11011},{"x":-17,"y":-25,"j":10615},{"x":-16,"y":-25,"j":10254},{"x":-15,"y":-25,"j":9928},{"x":-14,"y":-25,"j":9638},{"x":-13,"y":-25,"j":9383},{"x":-12,"y":-25,"j":9163},{"x":-11,"y":-25,"j":8978},{"x":-10,"y":-25,"j":8828},{"x":-9,"y":-25,"j":8714},{"x":-8,"y":-25,"j":8635},{"x":-7,"y":-25,"j":8591},{"x":-6,"y":-25,"j":8592},{"x":-5,"y":-25,"j":8649},{"x":-4,"y":-25,"j":8724},{"x":-3,"y":-25,"j":8818},{"x":-2,"y":-25,"j":8931},{"x":-1,"y":-25,"j":9064},{"x":0,"y":-25,"j":9215},{"x":1,"y":-25,"j":9385},{"x":2,"y":-25,"j":9574},{"x":3,"y":-25,"j":9783},{"x":4,"y":-25,"j":10010},{"x":5,"y":-25,"j":10256},{"x":6,"y":-25,"j":10521},{"x":7,"y":-25,"j":10806},{"x":8,"y":-25,"j":11109},{"x":9,"y":-25,"j":11431},{"x":10,"y":-25,"j":11772},{"x":11,"y":-25,"j":12133},{"x":12,"y":-25,"j":12512},{"x":13,"y":-25,"j":12910},{"x":14,"y":-25,"j":13327},{"x":15,"y":-25,"j":13764},{"x":16,"y":-25,"j":14219},{"x":17,"y":-25,"j":14693},
{"x":-25,"y":-27.5,"j":14474},{"x":-24,"y":-27.5,"j":13875},{"x":-23,"y":-27.5,"j":13310},{"x":-22,"y":-27.5,"j":12778},{"x":-21,"y":-27.5,"j":12281},{"x":-20,"y":-27.5,"j":11818},{"x":-19,"y":-27.5,"j":11389},{"x":-18,"y":-27.5,"j":10993},{"x":-17,"y":-27.5,"j":10632},{"x":-16,"y":-27.5,"j":10305},{"x":-15,"y":-27.5,"j":10012},{"x":-14,"y":-27.5,"j":9752},{"x":-13,"y":-27.5,"j":9527},{"x":-12,"y":-27.5,"j":9336},{"x":-11,"y":-27.5,"j":9179},{"x":-10,"y":-27.5,"j":9055},{"x":-9,"y":-27.5,"j":8966},{"x":-8,"y":-27.5,"j":8911},{"x":-7,"y":-27.5,"j":8889},{"x":-6,"y":-27.5,"j":8945},{"x":-5,"y":-27.5,"j":9027},{"x":-4,"y":-27.5,"j":9128},{"x":-3,"y":-27.5,"j":9249},{"x":-2,"y":-27.5,"j":9390},{"x":-1,"y":-27.5,"j":9550},{"x":0,"y":-27.5,"j":9730},{"x":1,"y":-27.5,"j":9930},{"x":2,"y":-27.5,"j":10149},{"x":3,"y":-27.5,"j":10388},{"x":4,"y":-27.5,"j":10646},{"x":5,"y":-27.5,"j":10924},{"x":6,"y":-27.5,"j":11222},{"x":7,"y":-27.5,"j":11539},{"x":8,"y":-27.5,"j":11876},{"x":9,"y":-27.5,"j":12232},{"x":10,"y":-27.5,"j":12608},{"x":11,"y":-27.5,"j":13004},{"x":12,"y":-27.5,"j":13419},{"x":13,"y":-27.5,"j":13854},{"x":14,"y":-27.5,"j":14308},{"x":15,"y":-27.5,"j":14782},
{"x":-26,"y":-30,"j":14874},{"x":-25,"y":-30,"j":14280},{"x":-24,"y":-30,"j":13719},{"x":-23,"y":-30,"j":13191},{"x":-22,"y":-30,"j":12696},{"x":-21,"y":-30,"j":12234},{"x":-20,"y":-30,"j":11805},{"x":-19,"y":-30,"j":11409},{"x":-18,"y":-30,"j":11046},{"x":-17,"y":-30,"j":10716},{"x":-16,"y":-30,"j":10419},{"x":-15,"y":-30,"j":10155},{"x":-14,"y":-30,"j":9924},{"x":-13,"y":-30,"j":9726},{"x":-12,"y":-30,"j":9561},{"x":-11,"y":-30,"j":9429},{"x":-10,"y":-30,"j":9330},{"x":-9,"y":-30,"j":9264},{"x":-8,"y":-30,"j":9231},{"x":-7,"y":-30,"j":9265},{"x":-6,"y":-30,"j":9355},{"x":-5,"y":-30,"j":9465},{"x":-4,"y":-30,"j":9595},{"x":-3,"y":-30,"j":9745},{"x":-2,"y":-30,"j":9915},{"x":-1,"y":-30,"j":10105},{"x":0,"y":-30,"j":10315},{"x":1,"y":-30,"j":10545},{"x":2,"y":-30,"j":10795},{"x":3,"y":-30,"j":11065},{"x":4,"y":-30,"j":11355},{"x":5,"y":-30,"j":11665},{"x":6,"y":-30,"j":11995},{"x":7,"y":-30,"j":12345},{"x":8,"y":-30,"j":12715},{"x":9,"y":-30,"j":13105},{"x":10,"y":-30,"j":13515},{"x":11,"y":-30,"j":13945},{"x":12,"y":-30,"j":14395},{"x":13,"y":-30,"j":14865}
],
"contours":[
{"c":"o1","i":0,"x":-0.77,"y":32.5},{"c":"o1","i":1,"x":-1.9,"y":29.8},{"c":"o1","i":2,"x":-3.1,"y":26.9},
{"c":"o2","i":0,"x":-6.3,"y":16.8},{"c":"o2","i":1,"x":-7.2,"y":13.9},{"c":"o2","i":2,"x":-8.0,"y":11.0},{"c":"o2","i":3,"x":-8.9,"y":7.7},{"c":"o2","i":4,"x":-9.7,"y":4.5},{"c":"o2","i":5,"x":-10.35,"y":1.8},{"c":"o2","i":6,"x":-10.75,"y":-1.5},{"c":"o2","i":7,"x":-11.05,"y":-5.0},{"c":"o2","i":8,"x":-11.35,"y":-8.9},{"c":"o2","i":9,"x":-11.5,"y":-11.5},{"c":"o2","i":10,"x":-11.2,"y":-14.5},{"c":"o2","i":11,"x":-10.6,"y":-16.9},{"c":"o2","i":12,"x":-9.9,"y":-19.5},{"c":"o2","i":13,"x":-9.0,"y":-21.7},{"c":"o2","i":14,"x":-7.6,"y":-23.3},{"c":"o2","i":15,"x":-6.0,"y":-24.0},{"c":"o2","i":16,"x":-4.2,"y":-23.7},{"c":"o2","i":17,"x":-2.0,"y":-22.3},{"c":"o2","i":18,"x":0.4,"y":-19.8},{"c":"o2","i":19,"x":2.7,"y":-16.9},{"c":"o2","i":20,"x":4.7,"y":-13.4},{"c":"o2","i":21,"x":6.4,"y":-10.0},{"c":"o2","i":22,"x":7.9,"y":-6.8},{"c":"o2","i":23,"x":9.2,"y":-3.7},{"c":"o2","i":24,"x":10.3,"y":-1.3},{"c":"o2","i":25,"x":11.3,"y":1.0},{"c":"o2","i":26,"x":12.5,"y":4.2},{"c":"o2","i":27,"x":13.5,"y":7.6},{"c":"o2","i":28,"x":14.5,"y":11.5},{"c":"o2","i":29,"x":15.2,"y":15.8},{"c":"o2","i":30,"x":15.6,"y":20.0},{"c":"o2","i":31,"x":15.8,"y":24.3},{"c":"o2","i":32,"x":15.85,"y":28.0},{"c":"o2","i":33,"x":15.85,"y":32.5},
{"c":"i1","i":0,"x":-2.6,"y":16.3},{"c":"i1","i":1,"x":-1.3,"y":20.0},{"c":"i1","i":2,"x":-0.1,"y":23.2},{"c":"i1","i":3,"x":1.5,"y":26.0},{"c":"i1","i":4,"x":3.2,"y":28.0},{"c":"i1","i":5,"x":5.0,"y":29.4},{"c":"i1","i":6,"x":6.6,"y":29.95},{"c":"i1","i":7,"x":7.85,"y":29.6},{"c":"i1","i":8,"x":9.0,"y":27.0},{"c":"i1","i":9,"x":9.7,"y":24.8},{"c":"i1","i":10,"x":10.2,"y":21.6},{"c":"i1","i":11,"x":10.42,"y":18.9},{"c":"i1","i":12,"x":10.42,"y":16.25},{"c":"i1","i":13,"x":10.1,"y":13.6},{"c":"i1","i":14,"x":9.7,"y":10.9},{"c":"i1","i":15,"x":9.0,"y":8.2},{"c":"i1","i":16,"x":8.3,"y":5.55},{"c":"i1","i":17,"x":7.6,"y":2.9},{"c":"i1","i":18,"x":6.9,"y":0.2},{"c":"i1","i":19,"x":6.2,"y":-2.2},{"c":"i1","i":20,"x":5.5,"y":-4.6},{"c":"i1","i":21,"x":4.2,"y":-7.3},{"c":"i1","i":22,"x":2.7,"y":-9.95},{"c":"i1","i":23,"x":0.7,"y":-12.8},{"c":"i1","i":24,"x":-1.5,"y":-15.3},{"c":"i1","i":25,"x":-3.2,"y":-16.8},{"c":"i1","i":26,"x":-4.8,"y":-17.45},{"c":"i1","i":27,"x":-5.7,"y":-16.9},{"c":"i1","i":28,"x":-6.8,"y":-15.0},{"c":"i1","i":29,"x":-7.6,"y":-12.6},{"c":"i1","i":30,"x":-8.1,"y":-9.4},{"c":"i1","i":31,"x":-8.3,"y":-6.2},{"c":"i1","i":32,"x":-7.9,"y":-2.2},{"c":"i1","i":33,"x":-7.3,"y":1.8},{"c":"i1","i":34,"x":-6.6,"y":4.2},{"c":"i1","i":35,"x":-5.7,"y":6.1}
],
"labels":[{"t":"8534.4","x":-4.8,"y":21.8},{"t":"7823.2","x":-4.2,"y":11.3}],
"cbar":[{"v":7162},{"v":7262},{"v":7362},{"v":7462},{"v":7562},{"v":7662},{"v":7762},{"v":7862},{"v":7962},{"v":8062},{"v":8162},{"v":8262},{"v":8362},{"v":8462},{"v":8562},{"v":8662},{"v":8762},{"v":8862},{"v":8962},{"v":9062},{"v":9162},{"v":9262},{"v":9362},{"v":9462},{"v":9562},{"v":9662},{"v":9762},{"v":9862},{"v":9962},{"v":10062},{"v":10162},{"v":10262},{"v":10362},{"v":10462},{"v":10562},{"v":10662},{"v":10762},{"v":10862},{"v":10962},{"v":11062},{"v":11162},{"v":11262},{"v":11362},{"v":11462},{"v":11562},{"v":11662},{"v":11762},{"v":11862},{"v":11962},{"v":12062},{"v":12162},{"v":12262},{"v":12362},{"v":12462},{"v":12562},{"v":12662},{"v":12762},{"v":12862},{"v":12962},{"v":13062},{"v":13162},{"v":13262},{"v":13362},{"v":13462},{"v":13562},{"v":13662},{"v":13762},{"v":13862},{"v":13962},{"v":14062},{"v":14162},{"v":14262},{"v":14362},{"v":14462},{"v":14562},{"v":14662},{"v":14762},{"v":14862},{"v":14962}]
},
"layer":[
{"layer":[
{"data":{"name":"grid"},"mark":{"type":"rect","clip":true,"strokeWidth":0.6},
"encoding":{
"x":{"field":"x","type":"quantitative","bin":{"step":1,"extent":[-31.5,31.5],"nice":false},"scale":{"domain":[-30.7,31.4],"nice":false,"zero":false},
"axis":{"values":[-30,-20,-10,0,10,20,30],"labelExpr":"(datum.value < 0 ? '−' : '') + abs(datum.value) + '%'","tickSize":6,"labelPadding":5,"title":["Rₜₒₜ−Rₜₒₜᵒᵖᵗ","————–","Rₜₒₜᵒᵖᵗ"],"titleFontSize":16.5,"titleFontStyle":"italic","titleLineHeight":10.5,"titlePadding":5}},
"y":{"field":"y","type":"quantitative","bin":{"step":2.5,"extent":[-31.25,33.75],"nice":false},"scale":{"domain":[-31.1,31.9],"nice":false,"zero":false},
"axis":{"values":[-30,-20,-10,0,10,20,30],"labelExpr":"(datum.value < 0 ? '−' : '') + abs(datum.value) + '%'","tickSize":6,"labelPadding":5,"title":["C−Cᵒᵖᵗ","———","Cᵒᵖᵗ"],"titleFontSize":17,"titleFontStyle":"italic","titleLineHeight":10.5,"titlePadding":4}},
"color":{"field":"j","type":"quantitative","legend":null,"scale":{"domain":[7112,8098,9084,10070,11056,12042,13028,14014,15000],"range":["#3b4cc0","#6282ea","#8db0fe","#b8d0f9","#dddddd","#f5c4ac","#f49a7b","#de604d","#b40426"],"interpolate":"rgb","clamp":true}},
"stroke":{"field":"j","type":"quantitative","legend":null,"scale":{"domain":[7112,8098,9084,10070,11056,12042,13028,14014,15000],"range":["#3b4cc0","#6282ea","#8db0fe","#b8d0f9","#dddddd","#f5c4ac","#f49a7b","#de604d","#b40426"],"interpolate":"rgb","clamp":true}}
}},
{"data":{"name":"contours"},"mark":{"type":"line","clip":true,"color":"black","strokeWidth":3.6,"interpolate":"catmull-rom"},
"encoding":{
"x":{"field":"x","type":"quantitative","scale":{"domain":[-30.7,31.4],"nice":false,"zero":false}},
"y":{"field":"y","type":"quantitative","scale":{"domain":[-31.1,31.9],"nice":false,"zero":false}},
"detail":{"field":"c"},"order":{"field":"i","type":"quantitative"}}},
{"data":{"name":"labels"},"mark":{"type":"text","angle":290,"fontSize":17,"color":"#eef1fa","font":"Liberation Serif"},
"encoding":{
"x":{"field":"x","type":"quantitative","scale":{"domain":[-30.7,31.4],"nice":false,"zero":false}},
"y":{"field":"y","type":"quantitative","scale":{"domain":[-31.1,31.9],"nice":false,"zero":false}},
"text":{"field":"t"}}},
{"data":{"values":[{"x":0,"y":0}]},"mark":{"type":"point","filled":true,"size":196,"color":"black","opacity":1},
"encoding":{
"x":{"field":"x","type":"quantitative","scale":{"domain":[-30.7,31.4],"nice":false,"zero":false}},
"y":{"field":"y","type":"quantitative","scale":{"domain":[-31.1,31.9],"nice":false,"zero":false}},
"shape":{"datum":"minimum of J","scale":{"range":["circle"]},
"legend":{"title":null,"orient":"bottom-right","offset":9,"padding":7,"fillColor":"rgba(255,255,255,0.8)","strokeColor":"#cccccc","cornerRadius":4,"symbolSize":225,"symbolFillColor":"black","symbolStrokeColor":"black","symbolStrokeWidth":0,"symbolOpacity":1,"symbolOffset":12,"labelOffset":24,"labelFontSize":20,"labelFont":"Liberation Serif","labelColor":"black"}}}}
]},
{"layer":[
{"data":{"name":"cbar"},"mark":{"type":"rect","strokeWidth":0.6},
"encoding":{
"x":{"datum":0,"type":"quantitative","scale":{"domain":[0,1],"range":[470,489]},"axis":null},"x2":{"datum":1},
"y":{"field":"v","type":"quantitative","bin":{"step":100,"extent":[7112,15012],"nice":false},"scale":{"domain":[6712,15382],"nice":false,"zero":false},
"axis":{"orient":"right","offset":45,"values":[7500,10000,12500,15000],"format":"d","title":null,"tickSize":5,"labelPadding":4,"labelFontSize":18}},
"color":{"field":"v","type":"quantitative","legend":null,"scale":{"domain":[7112,8098,9084,10070,11056,12042,13028,14014,15000],"range":["#3b4cc0","#6282ea","#8db0fe","#b8d0f9","#dddddd","#f5c4ac","#f49a7b","#de604d","#b40426"],"interpolate":"rgb","clamp":true}},
"stroke":{"field":"v","type":"quantitative","legend":null,"scale":{"domain":[7112,8098,9084,10070,11056,12042,13028,14014,15000],"range":["#3b4cc0","#6282ea","#8db0fe","#b8d0f9","#dddddd","#f5c4ac","#f49a7b","#de604d","#b40426"],"interpolate":"rgb","clamp":true}}
}},
{"data":{"values":[{}]},"mark":{"type":"rect","fillOpacity":0,"stroke":"black","strokeWidth":0.8},
"encoding":{"x":{"datum":0,"type":"quantitative","scale":{"domain":[0,1],"range":[470,489]},"axis":null},"x2":{"datum":1},
"y":{"datum":7112,"type":"quantitative","scale":{"domain":[6712,15382],"nice":false,"zero":false}},"y2":{"datum":15000}}},
{"data":{"values":[{}]},"mark":{"type":"point","shape":"M-1.1,1L0,-1L1.1,1Z","size":300,"filled":true,"fill":"#b40426","stroke":"black","strokeWidth":0.8,"opacity":1},
"encoding":{"x":{"datum":0.5,"type":"quantitative","scale":{"domain":[0,1],"range":[470,489]},"axis":null},
"y":{"datum":15191,"type":"quantitative","scale":{"domain":[6712,15382],"nice":false,"zero":false}}}},
{"data":{"values":[{}]},"mark":{"type":"point","shape":"M-1.05,-1L0,1L1.05,-1Z","size":328,"filled":true,"fill":"#3b4cc0","stroke":"black","strokeWidth":0.8,"opacity":1},
"encoding":{"x":{"datum":0.5,"type":"quantitative","scale":{"domain":[0,1],"range":[470,489]},"axis":null},
"y":{"datum":6911,"type":"quantitative","scale":{"domain":[6712,15382],"nice":false,"zero":false}}}}
]}
],
"resolve":{"scale":{"x":"independent","y":"independent","color":"independent","stroke":"independent"},"axis":{"x":"independent","y":"independent"}}
}
